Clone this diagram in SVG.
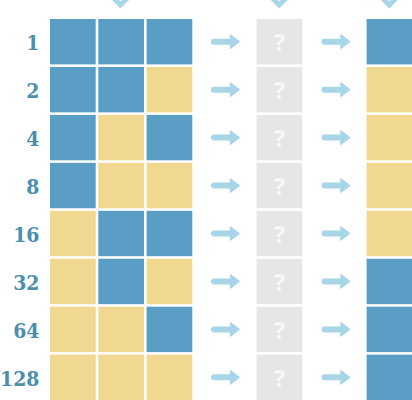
<svg xmlns="http://www.w3.org/2000/svg" width="412" height="400" viewBox="0 0 412 400">
<defs>
<style>
.b{fill:#5b9ec5}
.y{fill:#f0d891}
.g{fill:#e6e6e6}
.lbl{font-family:"DejaVu Serif",serif;font-weight:bold;font-stretch:condensed;font-size:21px;fill:#4a8fae;text-anchor:end}
.q{font-family:"Open Sans","DejaVu Sans",sans-serif;font-weight:bold;font-size:24px;fill:#f7f7f7;text-anchor:middle}
.shaft{stroke:#a8d6e8;stroke-width:6;stroke-linecap:round;fill:none}
.head{fill:#a8d6e8;stroke:#a8d6e8;stroke-width:1.5;stroke-linejoin:round}
.chev{stroke:#a8d6e8;stroke-width:5;fill:none;stroke-linejoin:miter}
</style>
<g id="arrow">
<line class="shaft" x1="214" y1="0" x2="232" y2="0"/>
<polygon class="head" points="230.5,-6.5 239,0 230.5,6.5"/>
</g>
</defs>
<g id="chevrons">
<polyline class="chev" points="113.5,-2 120.5,5 127.5,-2"/>
<polyline class="chev" points="272.3,-2 279.3,5 286.3,-2"/>
<polyline class="chev" points="382.3,-2 389.3,5 396.3,-2"/>
</g>
<g id="row1"><text class="lbl" x="39.5" y="50">1</text>
<rect class="b" x="50" y="19" width="45.7" height="45.4"/><rect class="b" x="98.3" y="19" width="45.7" height="45.4"/><rect class="b" x="146.6" y="19" width="45.7" height="45.4"/>
<rect class="g" x="256.6" y="19" width="45.6" height="45.4"/><text class="q" x="279.4" y="50.5">?</text>
<rect class="b" x="366.6" y="19" width="45.4" height="45.4"/></g>
<g id="row2"><text class="lbl" x="39.5" y="98">2</text>
<rect class="b" x="50" y="66.95" width="45.7" height="45.4"/><rect class="b" x="98.3" y="66.95" width="45.7" height="45.4"/><rect class="y" x="146.6" y="66.95" width="45.7" height="45.4"/>
<rect class="g" x="256.6" y="66.95" width="45.6" height="45.4"/><text class="q" x="279.4" y="98.5">?</text>
<rect class="y" x="366.6" y="66.95" width="45.4" height="45.4"/></g>
<g id="row4"><text class="lbl" x="39.5" y="146">4</text>
<rect class="b" x="50" y="114.9" width="45.7" height="45.4"/><rect class="y" x="98.3" y="114.9" width="45.7" height="45.4"/><rect class="b" x="146.6" y="114.9" width="45.7" height="45.4"/>
<rect class="g" x="256.6" y="114.9" width="45.6" height="45.4"/><text class="q" x="279.4" y="146.5">?</text>
<rect class="y" x="366.6" y="114.9" width="45.4" height="45.4"/></g>
<g id="row8"><text class="lbl" x="39.5" y="194">8</text>
<rect class="b" x="50" y="162.85" width="45.7" height="45.4"/><rect class="y" x="98.3" y="162.85" width="45.7" height="45.4"/><rect class="y" x="146.6" y="162.85" width="45.7" height="45.4"/>
<rect class="g" x="256.6" y="162.85" width="45.6" height="45.4"/><text class="q" x="279.4" y="194.5">?</text>
<rect class="y" x="366.6" y="162.85" width="45.4" height="45.4"/></g>
<g id="row16"><text class="lbl" x="39.5" y="242">16</text>
<rect class="y" x="50" y="210.8" width="45.7" height="45.4"/><rect class="b" x="98.3" y="210.8" width="45.7" height="45.4"/><rect class="b" x="146.6" y="210.8" width="45.7" height="45.4"/>
<rect class="g" x="256.6" y="210.8" width="45.6" height="45.4"/><text class="q" x="279.4" y="242.5">?</text>
<rect class="y" x="366.6" y="210.8" width="45.4" height="45.4"/></g>
<g id="row32"><text class="lbl" x="39.5" y="290">32</text>
<rect class="y" x="50" y="258.75" width="45.7" height="45.4"/><rect class="b" x="98.3" y="258.75" width="45.7" height="45.4"/><rect class="y" x="146.6" y="258.75" width="45.7" height="45.4"/>
<rect class="g" x="256.6" y="258.75" width="45.6" height="45.4"/><text class="q" x="279.4" y="290.5">?</text>
<rect class="b" x="366.6" y="258.75" width="45.4" height="45.4"/></g>
<g id="row64"><text class="lbl" x="39.5" y="338">64</text>
<rect class="y" x="50" y="306.7" width="45.7" height="45.4"/><rect class="y" x="98.3" y="306.7" width="45.7" height="45.4"/><rect class="b" x="146.6" y="306.7" width="45.7" height="45.4"/>
<rect class="g" x="256.6" y="306.7" width="45.6" height="45.4"/><text class="q" x="279.4" y="338.5">?</text>
<rect class="b" x="366.6" y="306.7" width="45.4" height="45.4"/></g>
<g id="row128"><text class="lbl" x="39.5" y="386">128</text>
<rect class="y" x="50" y="354.65" width="45.7" height="45.4"/><rect class="y" x="98.3" y="354.65" width="45.7" height="45.4"/><rect class="y" x="146.6" y="354.65" width="45.7" height="45.4"/>
<rect class="g" x="256.6" y="354.65" width="45.6" height="45.4"/><text class="q" x="279.4" y="386.5">?</text>
<rect class="b" x="366.6" y="354.65" width="45.4" height="45.4"/></g>
<g id="connectors">
<use href="#arrow" x="0" y="41.7"/><use href="#arrow" x="110.5" y="41.7"/>
<use href="#arrow" x="0" y="89.65"/><use href="#arrow" x="110.5" y="89.65"/>
<use href="#arrow" x="0" y="137.6"/><use href="#arrow" x="110.5" y="137.6"/>
<use href="#arrow" x="0" y="185.55"/><use href="#arrow" x="110.5" y="185.55"/>
<use href="#arrow" x="0" y="233.5"/><use href="#arrow" x="110.5" y="233.5"/>
<use href="#arrow" x="0" y="281.45"/><use href="#arrow" x="110.5" y="281.45"/>
<use href="#arrow" x="0" y="329.4"/><use href="#arrow" x="110.5" y="329.4"/>
<use href="#arrow" x="0" y="377.35"/><use href="#arrow" x="110.5" y="377.35"/>
</g>
</svg>
